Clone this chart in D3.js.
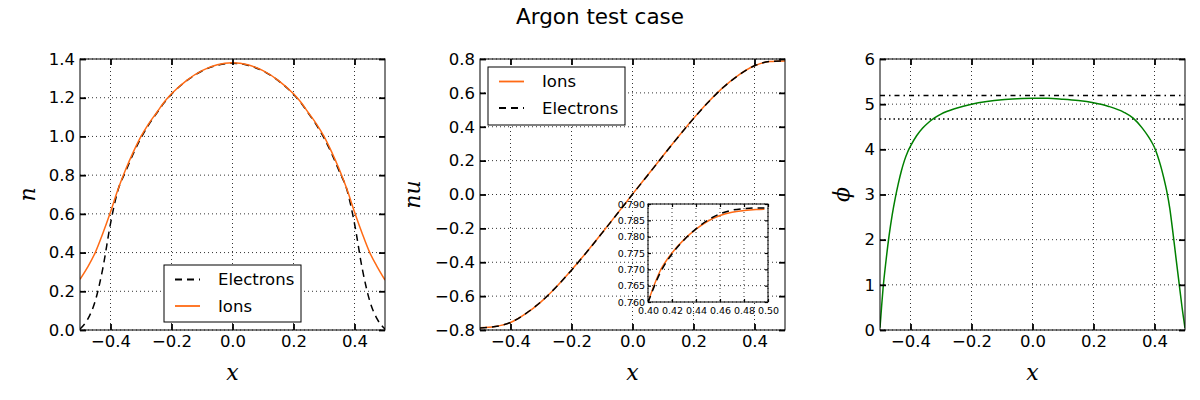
<!DOCTYPE html>
<html>
<head>
<meta charset="utf-8">
<script src="https://cdn.jsdelivr.net/npm/d3@7"></script>
<style>
  body { margin: 0; background: #fff; }
  svg text { font-family: 'DejaVu Sans', sans-serif; fill: #000; }
  .math { font-family: 'DejaVu Serif', serif; font-style: italic; }
</style>
</head>
<body>
<div id="chart"></div>
<script>
const title = 'Argon test case'

const xTicks = [-0.4, -0.2, 0.0, 0.2, 0.4]

// density n(x)
const nX = [-0.5, -0.475, -0.45, -0.425, -0.4, -0.375, -0.35, -0.325, -0.3, -0.275, -0.25, -0.225, -0.2, -0.15, -0.1, -0.05, 0,
  0.05, 0.1, 0.15, 0.2, 0.225, 0.25, 0.275, 0.3, 0.325, 0.35, 0.375, 0.4, 0.425, 0.45, 0.475, 0.5]
const nIons = [0.262, 0.325, 0.40, 0.50, 0.61, 0.728, 0.83, 0.92, 1.00, 1.065, 1.12, 1.175, 1.22, 1.29, 1.34, 1.37, 1.38,
  1.37, 1.34, 1.29, 1.22, 1.175, 1.12, 1.065, 1.00, 0.92, 0.83, 0.728, 0.61, 0.50, 0.40, 0.325, 0.258]
const nElectrons = [0.005, 0.055, 0.15, 0.32, 0.55, 0.725, 0.82, 0.912, 0.992, 1.06, 1.117, 1.172, 1.218, 1.288, 1.338, 1.368, 1.378,
  1.368, 1.338, 1.288, 1.218, 1.172, 1.117, 1.06, 0.992, 0.912, 0.82, 0.725, 0.55, 0.32, 0.15, 0.055, 0.005]
const nTicks = [0.0, 0.2, 0.4, 0.6, 0.8, 1.0, 1.2, 1.4]

// flux nu(x)
const nuX = [-0.5, -0.45, -0.4, -0.35, -0.3, -0.25, -0.2, -0.15, -0.1, -0.05, 0,
  0.05, 0.1, 0.15, 0.2, 0.25, 0.3, 0.35, 0.4, 0.45, 0.5]
const nuIons = [-0.787, -0.779, -0.756, -0.704, -0.634, -0.546, -0.446, -0.339, -0.227, -0.113, 0.002,
  0.115, 0.229, 0.341, 0.449, 0.549, 0.637, 0.708, 0.760, 0.7848, 0.7885]
const nuElectrons = [-0.788, -0.780, -0.755, -0.703, -0.633, -0.546, -0.447, -0.340, -0.228, -0.114, 0.001,
  0.114, 0.228, 0.340, 0.448, 0.548, 0.636, 0.707, 0.7598, 0.7851, 0.7888]
const nuTicks = [-0.8, -0.6, -0.4, -0.2, 0.0, 0.2, 0.4, 0.6, 0.8]

// inset zoom of nu near the right wall
const insetX = [0.40, 0.41, 0.42, 0.43, 0.44, 0.45, 0.46, 0.47, 0.48, 0.49, 0.497]
const insetIons = [0.7600, 0.7694, 0.7750, 0.7791, 0.7823, 0.7848, 0.7865, 0.7875, 0.7880, 0.7883, 0.7884]
const insetElectrons = [0.7598, 0.7688, 0.7747, 0.7790, 0.7824, 0.7851, 0.7870, 0.7881, 0.7886, 0.7888, 0.7888]
const insetXTicks = [0.40, 0.42, 0.44, 0.46, 0.48, 0.50]
const insetYTicks = [0.760, 0.765, 0.770, 0.775, 0.780, 0.785, 0.790]

// potential phi(x)
const phiX = [-0.5, -0.495, -0.49, -0.48, -0.47, -0.46, -0.45, -0.44, -0.43, -0.42, -0.41, -0.4, -0.38, -0.36, -0.34, -0.32, -0.3,
  -0.25, -0.2, -0.15, -0.1, -0.05, 0, 0.05, 0.1, 0.15, 0.2, 0.25, 0.3, 0.33, 0.36, 0.38, 0.39, 0.4,
  0.41, 0.42, 0.43, 0.44, 0.45, 0.46, 0.47, 0.48, 0.49, 0.5]
const phi = [0.05, 0.5, 0.92, 1.55, 2.1, 2.55, 2.92, 3.24, 3.52, 3.75, 3.93, 4.07, 4.3, 4.47, 4.6, 4.7, 4.78,
  4.91, 5.0, 5.06, 5.1, 5.12, 5.13, 5.13, 5.11, 5.08, 5.03, 4.95, 4.82, 4.69, 4.47, 4.28, 4.17, 4.04,
  3.86, 3.64, 3.38, 3.08, 2.70, 2.18, 1.62, 1.07, 0.52, 0.04]
const phiLevels = [5.19, 4.67] // dash-dot, dotted
const phiTicks = [0, 1, 2, 3, 4, 5, 6]

const ORANGE = '#ff6a14'
const GREEN = '#008000'

const W = 1200, H = 400
const axW = 305, axH = 271, axTop = 59
const axLefts = [80, 480, 880]

const svg = d3.select('#chart').append('svg')
  .attr('width', W).attr('height', H)

svg.append('text')
  .attr('x', 600).attr('y', 24)
  .attr('text-anchor', 'middle')
  .attr('font-size', 21.5)
  .text(title)

// 画一个坐标框：网格、四边向内的刻度、边框
function makeAxes(g, id, xDomain, yDomain, xt, yt, xFmt, yFmt, opt) {
  const { w, h, tick, fontSize, pad, xPad = pad } = opt
  const x = d3.scaleLinear().domain(xDomain).range([0, w])
  const y = d3.scaleLinear().domain(yDomain).range([h, 0])

  g.append('rect').attr('width', w).attr('height', h).attr('fill', '#fff')

  g.append('clipPath').attr('id', id)
    .append('rect').attr('width', w).attr('height', h)

  const grid = g.append('g').attr('stroke', '#000').attr('stroke-width', 0.8)
    .attr('stroke-dasharray', '1,3')
  grid.selectAll('.gx').data(xt).join('line')
    .attr('x1', d => x(d)).attr('x2', d => x(d)).attr('y1', 0).attr('y2', h)
  grid.selectAll('.gy').data(yt).join('line')
    .attr('y1', d => y(d)).attr('y2', d => y(d)).attr('x1', 0).attr('x2', w)

  const plot = g.append('g').attr('clip-path', `url(#${id})`)

  const axes = [
    [d3.axisBottom(x).tickValues(xt).tickFormat(xFmt).tickPadding(xPad), `translate(0,${h})`],
    [d3.axisTop(x).tickValues(xt).tickFormat(''), 'translate(0,0)'],
    [d3.axisLeft(y).tickValues(yt).tickFormat(yFmt).tickPadding(pad), 'translate(0,0)'],
    [d3.axisRight(y).tickValues(yt).tickFormat(''), `translate(${w},0)`]
  ]
  axes.forEach(([ax, tr]) => {
    const a = g.append('g').attr('transform', tr)
      .call(ax.tickSizeInner(-tick).tickSizeOuter(0))
    a.select('.domain').remove()
    a.selectAll('line').attr('stroke-width', tick > 4 ? 1.8 : 1.2)
    a.selectAll('text').attr('font-size', fontSize).attr('font-family', 'DejaVu Sans')
  })

  g.append('rect').attr('width', w).attr('height', h)
    .attr('fill', 'none').attr('stroke', '#000').attr('stroke-width', 1)

  return { x, y, plot }
}

function addLine(plot, x, y, xs, ys, color, dash, width = 1.5) {
  plot.append('path')
    .datum(d3.zip(xs, ys))
    .attr('fill', 'none')
    .attr('stroke', color)
    .attr('stroke-width', width)
    .attr('stroke-dasharray', dash)
    .attr('d', d3.line().x(d => x(d[0])).y(d => y(d[1])).curve(d3.curveMonotoneX))
}

function addLegend(g, left, top, w, h, items) {
  const lg = g.append('g').attr('transform', `translate(${left},${top})`)
  lg.append('rect').attr('width', w).attr('height', h)
    .attr('fill', '#fff').attr('stroke', '#000').attr('stroke-width', 1)
  items.forEach((it, i) => {
    const cy = 14.5 + i * 26.5
    lg.append('line').attr('x1', 11).attr('x2', 36).attr('y1', cy).attr('y2', cy)
      .attr('stroke', it.color).attr('stroke-width', 1.8).attr('stroke-dasharray', it.dash)
    lg.append('text').attr('x', 54).attr('y', cy).attr('dy', '0.35em')
      .attr('font-size', 16.5).text(it.name)
  })
}

function xLabel(g) {
  g.append('text').attr('class', 'math')
    .attr('x', axW / 2).attr('y', 321)
    .attr('text-anchor', 'middle').attr('font-size', 22).text('x')
}

function yLabel(g, dx, txt) {
  g.append('text').attr('class', 'math')
    .attr('transform', `translate(${dx},${axH / 2}) rotate(-90)`)
    .attr('text-anchor', 'middle').attr('dy', '0.3em')
    .attr('font-size', 22).text(txt)
}

const mainOpt = { w: axW, h: axH, tick: 6, fontSize: 16.5, pad: 5 }
const f1 = d3.format('.1f')

// ---- panel 1 : n ----
const g1 = svg.append('g').attr('transform', `translate(${axLefts[0]},${axTop})`)
const a1 = makeAxes(g1, 'c1', [-0.5, 0.5], [0, 1.4], xTicks, nTicks, f1, f1, mainOpt)
addLine(a1.plot, a1.x, a1.y, nX, nElectrons, '#000', '7,5')
addLine(a1.plot, a1.x, a1.y, nX, nIons, ORANGE, null)
addLegend(g1, 84, 206, 137, 57, [
  { name: 'Electrons', color: '#000', dash: '7,5' },
  { name: 'Ions', color: ORANGE, dash: null }
])
xLabel(g1)
yLabel(g1, -52, 'n')

// ---- panel 2 : nu ----
const g2 = svg.append('g').attr('transform', `translate(${axLefts[1]},${axTop})`)
const a2 = makeAxes(g2, 'c2', [-0.5, 0.5], [-0.8, 0.8], xTicks, nuTicks, f1, f1, mainOpt)
addLine(a2.plot, a2.x, a2.y, nuX, nuIons, ORANGE, null)
addLine(a2.plot, a2.x, a2.y, nuX, nuElectrons, '#000', '7,5')
addLegend(g2, 8, 8, 137, 58, [
  { name: 'Ions', color: ORANGE, dash: null },
  { name: 'Electrons', color: '#000', dash: '7,5' }
])
xLabel(g2)
yLabel(g2, -67, 'nu')

// inset
const gi = g2.append('g').attr('transform', 'translate(168,145)')
const ai = makeAxes(gi, 'ci', [0.40, 0.50], [0.760, 0.790], insetXTicks, insetYTicks,
  d3.format('.2f'), d3.format('.3f'), { w: 120, h: 98, tick: 3, fontSize: 9.5, pad: 3, xPad: 5 })
addLine(ai.plot, ai.x, ai.y, insetX, insetIons, ORANGE, null)
addLine(ai.plot, ai.x, ai.y, insetX, insetElectrons, '#000', '7,5')

// ---- panel 3 : phi ----
const g3 = svg.append('g').attr('transform', `translate(${axLefts[2]},${axTop})`)
const a3 = makeAxes(g3, 'c3', [-0.5, 0.5], [0, 6], xTicks, phiTicks, f1, d3.format('d'), mainOpt)
a3.plot.selectAll('.lvl').data(phiLevels).join('line')
  .attr('x1', 0).attr('x2', axW)
  .attr('y1', d => a3.y(d)).attr('y2', d => a3.y(d))
  .attr('stroke', '#000').attr('stroke-width', 1.5)
  .attr('stroke-dasharray', (d, i) => i === 0 ? '5,4,1.5,4' : '1.5,3')
addLine(a3.plot, a3.x, a3.y, phiX, phi, GREEN, null)
xLabel(g3)
yLabel(g3, -38, '\u03d5')
</script>
</body>
</html>
